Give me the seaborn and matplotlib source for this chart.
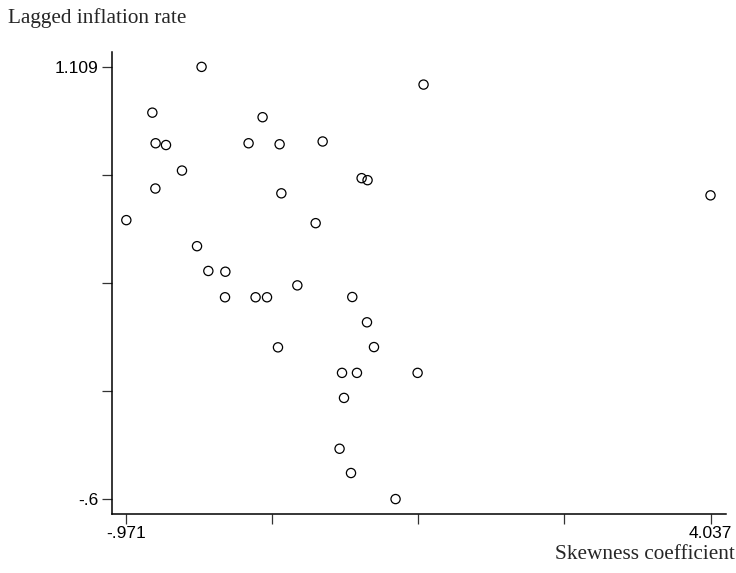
import numpy as np
import pandas as pd
import matplotlib
matplotlib.use("Agg")
import matplotlib.pyplot as plt
import seaborn as sns

# Skewness of the price-change distribution vs. lagged inflation
skewness = [-0.326, -0.748, -0.720, -0.631, -0.494, -0.722, -0.971, 0.077,
            0.197, 0.343, 0.712, 0.358, 0.652, 1.577, 1.046, 1.097,
            -0.365, -0.268, -0.122, -0.125, 0.137, 0.235, 0.495, 0.329,
            0.966, 1.092, 1.152, 0.878, 1.006, 1.526, 0.895, 0.857,
            0.955, 1.337, 4.037]
lagged_inflation = [1.109, 0.928, 0.807, 0.800, 0.699, 0.628, 0.503, 0.807,
                    0.910, 0.803, 0.814, 0.609, 0.491, 1.039, 0.669, 0.661,
                    0.400, 0.302, 0.299, 0.198, 0.198, 0.198, 0.245, 0.000,
                    0.199, 0.099, 0.001, -0.101, -0.101, -0.101, -0.200, -0.401,
                    -0.497, -0.600, 0.601]

x_label = "Skewness coefficient"
y_label = "Lagged inflation rate"

df = pd.DataFrame({"skew": skewness, "infl": lagged_inflation})

sns.set_style("ticks")
plt.rcParams["font.family"] = ["Liberation Sans", "DejaVu Sans"]

fig = plt.figure(figsize=(7.36, 5.73), dpi=100)
ax = fig.add_axes([0.1522, 0.1030, 0.8342, 0.8063])

sns.scatterplot(data=df, x="skew", y="infl", ax=ax, marker="o", s=44,
                facecolors="none", edgecolor="black", linewidth=0.9)

xmin, xmax = min(skewness), max(skewness)
ymin, ymax = min(lagged_inflation), max(lagged_inflation)
xpad = (xmax - xmin) * 0.0265
ypad = (ymax - ymin) * 0.0345
ax.set_xlim(xmin - 0.0245 * (xmax - xmin), xmax + xpad)
ax.set_ylim(ymin - ypad, ymax + ypad)


def fmt(v):
    s = ("%.3f" % v).rstrip("0").rstrip(".")
    return s.replace("0.", ".", 1) if abs(v) < 1 else s


xt = np.linspace(xmin, xmax, 5)
yt = np.linspace(ymin, ymax, 5)
ax.set_xticks(xt)
ax.set_yticks(yt)
ax.set_xticklabels([fmt(xmin), "", "", "", fmt(xmax)])
ax.set_yticklabels([fmt(ymin), "", "", "", fmt(ymax)])

for side in ("top", "right"):
    ax.spines[side].set_visible(False)
for side in ("left", "bottom"):
    ax.spines[side].set_color("black")
    ax.spines[side].set_linewidth(1.1)

ax.tick_params(axis="both", direction="out", length=7, width=0.9,
               color="#333333", labelsize=12.5, pad=3, labelcolor="black",
               bottom=True, left=True)
ax.tick_params(axis="x", pad=2)

ax.set_xlabel("")
ax.set_ylabel("")
fig.text(0.9986, 0.033, x_label, ha="right", va="center",
         family="Liberation Serif", fontsize=15.3)
fig.text(0.011, 0.968, y_label, ha="left", va="center",
         family="Liberation Serif", fontsize=15.3)

fig.savefig("out.png", dpi=100)
